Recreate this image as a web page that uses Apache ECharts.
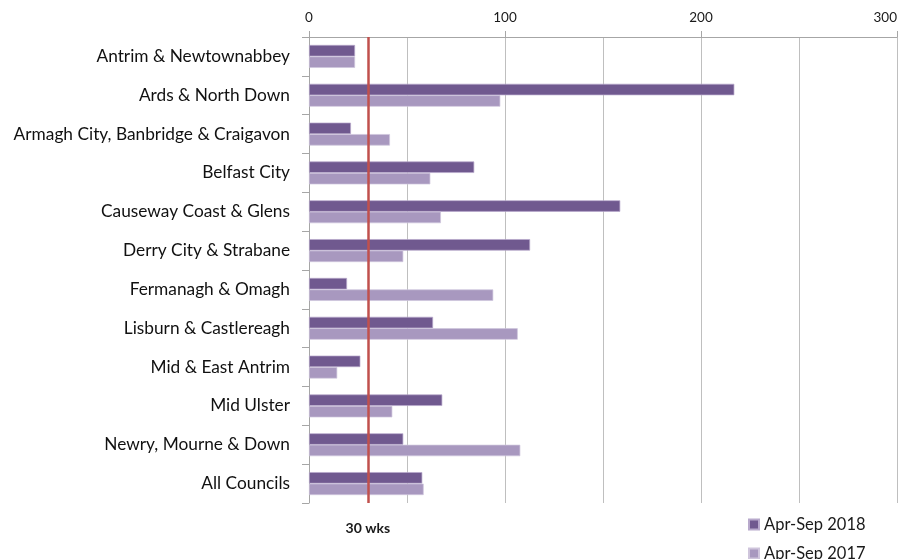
<!DOCTYPE html>
<html>
<head>
<meta charset="utf-8">
<script src="https://cdn.jsdelivr.net/npm/echarts@6/dist/echarts.min.js"></script>
<style>html,body{margin:0;padding:0;background:#fff;}#c{width:912px;height:559px;}</style>
</head>
<body>
<div id="c"></div>
<script>
var categories = ['Antrim & Newtownabbey','Ards & North Down','Armagh City, Banbridge & Craigavon','Belfast City','Causeway Coast & Glens','Derry City & Strabane','Fermanagh & Omagh','Lisburn & Castlereagh','Mid & East Antrim','Mid Ulster','Newry, Mourne & Down','All Councils'];
var series2018 = [23.5, 217, 21.4, 84.3, 158.8, 112.8, 19.4, 63.3, 26.2, 68, 48.1, 57.8];
var series2017 = [23.5, 97.6, 41.3, 61.9, 67.3, 48.1, 94, 106.5, 14.4, 42.5, 107.8, 58.5];
var targetWeeks = 30;
var targetLabel = '30 wks';
var seriesNames = ['Apr-Sep 2018','Apr-Sep 2017'];

var font = 'Lato';
var legendBase = {
  orient: 'vertical', left: 743,
  itemWidth: 10, itemHeight: 10,
  icon: 'rect',
  textStyle: {fontFamily: font, fontSize: 16.5, color: '#1a1a1a'}
};
var chart = echarts.init(document.getElementById('c'), null, {renderer:'canvas'});
chart.setOption({
  animation: false,
  textStyle: {fontFamily: font},
  grid: {left: 309, right: 15, top: 37, bottom: 56, containLabel: false},
  legend: [
    Object.assign({}, legendBase, {top: 511, data: [seriesNames[0]]}),
    Object.assign({}, legendBase, {top: 540, data: [seriesNames[1]]})
  ],
  xAxis: {
    type: 'value', position: 'top', min: 0, max: 300, interval: 100,
    axisLine: {show: true, lineStyle: {color: '#a6a6a6'}},
    axisTick: {show: true, length: 6, lineStyle: {color: '#a6a6a6'}},
    axisLabel: {fontSize: 13.5, color: '#1a1a1a', margin: 12, alignMaxLabel: 'right'},
    splitLine: {show: true, lineStyle: {color: '#bfbfbf', width: 1}},
    minorTick: {show: false, splitNumber: 2},
    minorSplitLine: {show: true, lineStyle: {color: '#bfbfbf', width: 1}}
  },
  yAxis: {
    type: 'category', data: categories, inverse: true,
    axisLine: {show: true, lineStyle: {color: '#a6a6a6'}},
    axisTick: {show: true, length: 7, lineStyle: {color: '#a6a6a6'}},
    axisLabel: {fontSize: 17.3, color: '#111', margin: 19},
    splitLine: {show: false}
  },
  series: [
    {
      name: seriesNames[0], type: 'bar', data: series2018,
      barGap: '0%', barCategoryGap: '41%',
      itemStyle: {color: '#70598f', borderColor: '#b8a9cc', borderWidth: 0.7},
      markLine: {
        silent: true, symbol: ['none','none'],
        lineStyle: {color: '#c0504d', width: 2.5, type: 'solid'},
        label: {show: true, position: 'end', formatter: targetLabel, fontWeight: 'bold', fontSize: 14, color: '#1a1a1a', distance: 18},
        data: [{xAxis: targetWeeks}]
      }
    },
    {
      name: seriesNames[1], type: 'bar', data: series2017,
      itemStyle: {color: '#a898bf', borderColor: '#cfc5dc', borderWidth: 0.7}
    }
  ]
});
</script>
</body>
</html>
